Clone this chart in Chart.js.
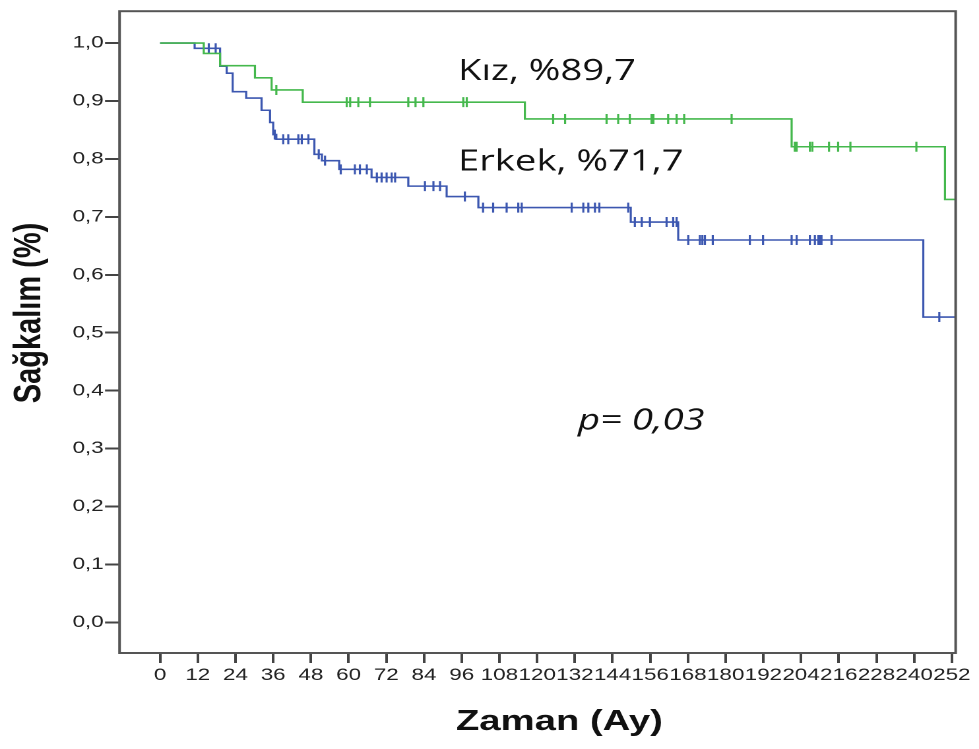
<!DOCTYPE html>
<html>
<head>
<meta charset="utf-8">
<script src="https://cdn.jsdelivr.net/npm/chart.js@4.4.1/dist/chart.umd.min.js"></script>
<style>
  html, body { margin: 0; padding: 0; background: #fff; overflow: hidden; }
  /* the original figure is stretched sideways, so the chart is drawn narrow and widened */
  #wrap { position: absolute; left: 0; top: 0; width: 742px; height: 749px;
          transform: scaleX(1.3194); transform-origin: 0 0; }
</style>
</head>
<body>
<div id="wrap"><canvas id="kmChart"></canvas></div>
<script>
// Sağkalım eğrileri (Kaplan-Meier), cinsiyete göre
var xTicks = [0, 12, 24, 36, 48, 60, 72, 84, 96, 108, 120, 132, 144, 156, 168, 180, 192, 204, 216, 228, 240, 252];
var yTicks = [0, 0.1, 0.2, 0.3, 0.4, 0.5, 0.6, 0.7, 0.8, 0.9, 1.0];

// Kız
var kizTime = [0, 13.9, 19.1, 30.2, 35.5, 45.4, 116.1, 201, 249.8, 253.2];
var kizSurv = [1, 0.982, 0.961, 0.94, 0.919, 0.898, 0.869, 0.821, 0.73, 0.73];
var kizCensorTime = [37, 59.4, 60.5, 63.1, 66.8, 79, 81.3, 83.8, 96.5, 97.6,
                     125.1, 128.9, 142.1, 145.8, 149.5, 156.4, 157, 161.7, 164.4, 166.8, 181.9,
                     202, 202.6, 206.8, 207.6, 212.9, 215.8, 219.7, 240.7];
var kizCensorSurv = [0.919, 0.898, 0.898, 0.898, 0.898, 0.898, 0.898, 0.898, 0.898, 0.898,
                     0.869, 0.869, 0.869, 0.869, 0.869, 0.869, 0.869, 0.869, 0.869, 0.869, 0.869,
                     0.821, 0.821, 0.821, 0.821, 0.821, 0.821, 0.821, 0.821];

// Erkek
var erkekTime = [0, 11, 19.1, 21.2, 23.1, 27.4, 32.3, 35, 36, 37, 49.1, 51.5, 57, 67.3, 79, 91.2, 101.3, 149.8, 164.9, 242.9, 253.2];
var erkekSurv = [1, 0.991, 0.96, 0.948, 0.916, 0.905, 0.884, 0.863, 0.842, 0.834, 0.808, 0.797, 0.782, 0.768, 0.753, 0.735, 0.716, 0.691, 0.66, 0.527, 0.527];
var erkekCensorTime = [15.5, 17.7, 36.5, 39.2, 40.8, 44, 45.1, 47.2, 50.5, 52.5, 57.5, 62, 63.6, 65.8,
                       69, 70.5, 72.1, 73.7, 74.8, 84.3, 87, 89.1, 97,
                       102.8, 106, 110.3, 114, 115.1, 131, 134.7, 136.3, 138.4, 139.8, 149,
                       151.1, 153.3, 155.9, 161.2, 163.3, 164.4,
                       168.1, 171.8, 172.6, 173.4, 175.9, 187.7, 191.9, 201, 202.6, 206.8, 208.4, 209.5, 210, 210.5, 213.7,
                       248];
var erkekCensorSurv = [0.991, 0.991, 0.842, 0.834, 0.834, 0.834, 0.834, 0.834, 0.808, 0.797, 0.782, 0.782, 0.782, 0.782,
                       0.768, 0.768, 0.768, 0.768, 0.768, 0.753, 0.753, 0.753, 0.735,
                       0.716, 0.716, 0.716, 0.716, 0.716, 0.716, 0.716, 0.716, 0.716, 0.716, 0.716,
                       0.691, 0.691, 0.691, 0.691, 0.691, 0.691,
                       0.66, 0.66, 0.66, 0.66, 0.66, 0.66, 0.66, 0.66, 0.66, 0.66, 0.66, 0.66, 0.66, 0.66, 0.66,
                       0.527];

var green = '#45b84d';
var blue = '#3c57b0';

function toXY(xs, ys) {
    var out = [];
    for (var i = 0; i < xs.length; i++) out.push({ x: xs[i], y: ys[i] });
    return out;
}

// serbest metinler (veri koordinatlarında)
var notes = [
    { text: 'Kız, %89,7', x: 94.8, y: 0.936, font: '29px "Open Sans"', align: 'left', base: 'alphabetic' },
    { text: 'Erkek, %71,7', x: 94.8, y: 0.780, font: '29px "Open Sans"', align: 'left', base: 'alphabetic' },
    { text: 'p= 0,03', x: 133, y: 0.333, font: 'italic 29px "Open Sans"', align: 'left', base: 'alphabetic' },
    { text: 'Zaman (Ay)', x: 127.1, y: -0.172, font: 'bold 29px "Liberation Sans"', align: 'center', base: 'middle' }
];

var framePlugin = {
    id: 'frame',
    afterDraw: function (chart) {
        var a = chart.chartArea, ctx = chart.ctx;
        ctx.save();
        ctx.strokeStyle = '#555';
        ctx.lineWidth = 2;
        ctx.strokeRect(a.left, a.top, a.right - a.left, a.bottom - a.top);
        ctx.restore();
    }
};

var notesPlugin = {
    id: 'notes',
    afterDraw: function (chart) {
        var ctx = chart.ctx, xs = chart.scales.x, ys = chart.scales.y;
        ctx.save();
        ctx.fillStyle = '#111';
        notes.forEach(function (n) {
            ctx.font = n.font;
            ctx.textAlign = n.align;
            ctx.textBaseline = n.base;
            ctx.fillText(n.text, xs.getPixelForValue(n.x), ys.getPixelForValue(n.y));
        });
        // y ekseni başlığı
        ctx.translate(chart.chartArea.left - 68, ys.getPixelForValue(0.534));
        ctx.rotate(-Math.PI / 2);
        ctx.font = 'bold 29px "Liberation Sans"';
        ctx.textAlign = 'center';
        ctx.textBaseline = 'middle';
        ctx.fillText('Sağkalım (%)', 0, 0);
        ctx.restore();
    }
};

var ctx = document.getElementById('kmChart').getContext('2d');
var kmChart = new Chart(ctx, {
    type: 'line',
    data: {
        datasets: [
            { label: 'Kız', data: toXY(kizTime, kizSurv), stepped: 'before', borderColor: green, borderWidth: 1.6, pointRadius: 0, fill: false },
            { label: 'Erkek', data: toXY(erkekTime, erkekSurv), stepped: 'before', borderColor: blue, borderWidth: 1.6, pointRadius: 0, fill: false },
            { type: 'scatter', label: 'Kız sansürlü', data: toXY(kizCensorTime, kizCensorSurv), pointStyle: 'line', rotation: 90,
              pointRadius: 5, borderColor: green, borderWidth: 1.6, showLine: false },
            { type: 'scatter', label: 'Erkek sansürlü', data: toXY(erkekCensorTime, erkekCensorSurv), pointStyle: 'line', rotation: 90,
              pointRadius: 5, borderColor: blue, borderWidth: 1.6, showLine: false }
        ]
    },
    options: {
        responsive: true,
        maintainAspectRatio: false,
        devicePixelRatio: 2,
        animation: false,
        layout: { padding: { top: 8, right: 17.7, left: 0, bottom: 0 } },
        plugins: { legend: { display: false }, tooltip: { enabled: false } },
        scales: {
            x: {
                type: 'linear', min: -12.9, max: 253.2,
                afterBuildTicks: function (s) { s.ticks = xTicks.map(function (v) { return { value: v }; }); },
                afterFit: function (s) { s.height = 96; },
                border: { display: false },
                grid: { drawOnChartArea: false, drawTicks: true, tickLength: 10, color: '#444', lineWidth: 2 },
                ticks: { font: { family: 'Liberation Sans', size: 17 }, color: '#222', padding: 2, maxRotation: 0, autoSkip: false,
                         callback: function (v) { return String(v); } }
            },
            y: {
                type: 'linear', min: -0.053, max: 1.055,
                afterBuildTicks: function (s) { s.ticks = yTicks.map(function (v) { return { value: v }; }); },
                afterFit: function (s) { s.width = 90.6; },
                border: { display: false },
                grid: { drawOnChartArea: false, drawTicks: true, tickLength: 11, color: '#444', lineWidth: 2 },
                ticks: { font: { family: 'Liberation Sans', size: 17 }, color: '#222', padding: 1,
                         callback: function (v) { return v.toFixed(1).replace('.', ','); } }
            }
        }
    },
    plugins: [framePlugin, notesPlugin]
});
</script>
</body>
</html>
